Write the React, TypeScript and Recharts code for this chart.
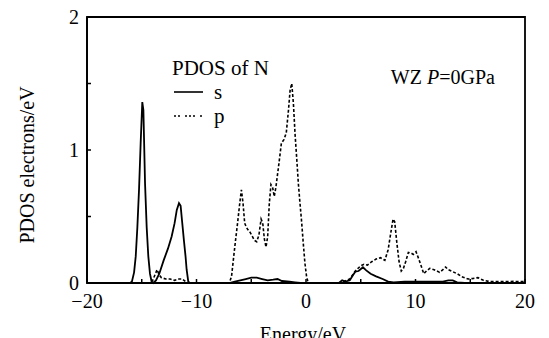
import React from "react";
import { LineChart, Line, XAxis, YAxis, Legend, ReferenceDot, ReferenceArea, Label } from "recharts";

// N partial DOS, wurtzite, P = 0 GPa
const sEnergy = [
  -20, -16.1, -15.9, -15.7, -15.55, -15.4, -15.25, -15.1, -14.95, -14.85, -14.7, -14.55, -14.4, -14.25,
  -14.1, -13.95, -13.7, -13.4, -13.0, -12.6, -12.27, -12.0, -11.8, -11.6, -11.45, -11.3, -11.15, -11.0,
  -10.9, -10.75, -10.6, -7.0, -6.5, -6.0, -5.5, -5.0, -4.5, -4.0, -3.5, -3.0, -2.6, -2.2, -1.5, -1.0,
  -0.5, 3.0, 3.3, 3.6, 4.0, 4.3, 4.5, 4.8, 5.2, 5.5, 5.9, 6.4, 7.0, 7.5, 8.0, 9.0, 10.0, 11.0, 12.5,
  13.0, 13.4, 13.8, 14.5, 20,
];
const sDos = [
  0, 0, 0.01, 0.08, 0.2, 0.42, 0.7, 1.05, 1.36, 1.3, 0.75, 0.42, 0.2, 0.07,
  0.01, 0, 0.02, 0.07, 0.17, 0.26, 0.35, 0.45, 0.55, 0.6, 0.58, 0.45, 0.32, 0.2,
  0.1, 0.01, 0, 0, 0.01, 0.02, 0.03, 0.04, 0.04, 0.03, 0.02, 0.025, 0.03, 0.015, 0.01, 0.005,
  0, 0, 0.02, 0.01, 0.02, 0.06, 0.085, 0.09, 0.118, 0.095, 0.07, 0.05, 0.03, 0.01, 0.005, 0.01, 0.01, 0.01, 0.01,
  0.02, 0.02, 0.005, 0, 0,
];

const pEnergy = [
  -20, -14.2, -14.0, -13.8, -13.6, -13.4, -13.2, -12.8, -12.4, -12.0, -11.6, -11.3, -11.0, -10.8,
  -7.0, -6.8, -6.6, -6.45, -6.25, -6.05, -5.9, -5.75, -5.6, -5.45, -5.3, -5.1, -4.9, -4.7, -4.5,
  -4.3, -4.1, -3.95, -3.8, -3.65, -3.5, -3.35, -3.2, -3.05, -2.9, -2.75, -2.5, -2.25, -2.0, -1.8,
  -1.6, -1.45, -1.3, -1.15, -1.0, -0.85, -0.7, -0.55, -0.4, -0.25, -0.1, 0.05, 0.2, 3.0, 3.4, 4.0,
  4.5, 5.0, 5.3, 5.6, 6.0, 6.4, 6.8, 7.2, 7.5, 7.75, 7.95, 8.1, 8.3, 8.5, 8.7, 8.9, 9.1, 9.35, 9.6,
  9.8, 10.05, 10.3, 10.55, 10.75, 11.0, 11.3, 11.7, 12.2, 12.5, 12.75, 13.0, 13.4, 13.8, 14.3, 14.8,
  15.3, 15.7, 16.2, 16.8, 18, 19, 20,
];
const pDos = [
  0, 0, 0.02, 0.06, 0.1, 0.06, 0.04, 0.03, 0.03, 0.02, 0.03, 0.03, 0.01, 0,
  0, 0.05, 0.2, 0.31, 0.45, 0.6, 0.7, 0.6, 0.45, 0.42, 0.4, 0.38, 0.35, 0.32, 0.31,
  0.36, 0.48, 0.45, 0.33, 0.27, 0.35, 0.6, 0.74, 0.72, 0.65, 0.72, 0.88, 1.05, 1.08, 1.13,
  1.3, 1.45, 1.5, 1.35, 1.12, 0.94, 0.75, 0.6, 0.46, 0.3, 0.15, 0.05, 0, 0, 0.01, 0.03,
  0.09, 0.13, 0.14, 0.135, 0.16, 0.18, 0.19, 0.17, 0.25, 0.38, 0.48, 0.46, 0.3, 0.16, 0.09, 0.11, 0.16, 0.23, 0.225,
  0.215, 0.235, 0.18, 0.12, 0.07, 0.09, 0.11, 0.1, 0.08, 0.1, 0.12, 0.1, 0.085, 0.07, 0.045, 0.03,
  0.035, 0.04, 0.02, 0.01, 0.01, 0.012, 0.01,
];

const xTicks = [-20, -15, -10, -5, 0, 5, 10, 15, 20];
const xTickLabels = ["−20", "", "−10", "", "0", "", "10", "", "20"];
const yTicks = [0, 0.5, 1, 1.5, 2];
const yTickLabels = ["0", "", "1", "", "2"];

const sData = sEnergy.map((e, i) => ({ e, v: sDos[i] }));
const pData = pEnergy.map((e, i) => ({ e, v: pDos[i] }));

const FONT = "Liberation Serif, DejaVu Serif, serif";
const txt = { fontFamily: FONT, fontSize: 20, fill: "#000" };

function XTick(props: any) {
  const { x, y, index } = props;
  const label = xTickLabels[index] ?? "";
  return (
    <g>
      <line x1={x} x2={x} y1={y} y2={y - 4} stroke="#000" strokeWidth={1.5} />
      {label && (
        <text x={x} y={y + 25} textAnchor="middle" style={txt}>
          {label}
        </text>
      )}
    </g>
  );
}

function YTick(props: any) {
  const { x, y, index } = props;
  const label = yTickLabels[index] ?? "";
  return (
    <g>
      <line x1={x} x2={x + 4} y1={y} y2={y} stroke="#000" strokeWidth={1.5} />
      {label && (
        <text x={x - 8} y={y} textAnchor="end" dominantBaseline="central" style={txt}>
          {label}
        </text>
      )}
    </g>
  );
}

function PdosLegend() {
  return (
    <div style={{ fontFamily: FONT, fontSize: 21, color: "#000", lineHeight: "24px", textAlign: "left" }}>
      <div>PDOS of N</div>
      <div style={{ display: "flex", alignItems: "center", height: 24 }}>
        <svg width={32} height={24}>
          <line x1={2} x2={31} y1={12} y2={12} stroke="#000" strokeWidth={1.6} />
        </svg>
        <span style={{ marginLeft: 10 }}>s</span>
      </div>
      <div style={{ display: "flex", alignItems: "center", height: 24 }}>
        <svg width={32} height={24}>
          <line x1={2} x2={31} y1={12} y2={12} stroke="#000" strokeWidth={1.4} strokeDasharray="2 2 2 5 2 2" />
        </svg>
        <span style={{ marginLeft: 10 }}>p</span>
      </div>
    </div>
  );
}

export default function App() {
  return (
    <div style={{ position: "absolute", left: 0, top: 0, background: "#fff", fontFamily: FONT }}>
      <LineChart width={549} height={338} margin={{ top: 17, right: 24, bottom: 25, left: 27 }}>
        <XAxis
          dataKey="e"
          type="number"
          domain={[-20, 20]}
          ticks={xTicks}
          allowDataOverflow
          height={30}
          tickSize={0}
          tickMargin={0}
          tickLine={false}
          tick={<XTick />}
          axisLine={{ stroke: "#000", strokeWidth: 1.8 }}
        >
          <Label
            content={(p: any) => {
              const vb = p.viewBox;
              return (
                <text x={vb.x + vb.width / 2 - 3} y={vb.y + 58} textAnchor="middle" style={txt}>
                  Energy/eV
                </text>
              );
            }}
          />
        </XAxis>
        <YAxis
          type="number"
          domain={[0, 2]}
          ticks={yTicks}
          width={60}
          tickSize={0}
          tickMargin={0}
          tickLine={false}
          tick={<YTick />}
          axisLine={{ stroke: "#000", strokeWidth: 1.8 }}
        >
          <Label
            content={(p: any) => {
              const vb = p.viewBox;
              const cx = vb.x + 7;
              const cy = vb.y + vb.height / 2 + 15;
              return (
                <text x={0} y={0} transform={`translate(${cx},${cy}) rotate(-90)`} textAnchor="middle" style={txt}>
                  PDOS electrons/eV
                </text>
              );
            }}
          />
        </YAxis>
        <ReferenceArea x1={-20} x2={20} y1={0} y2={2} fill="none" stroke="#000" strokeWidth={1.8} />
        <Line
          data={pData}
          dataKey="v"
          type="linear"
          stroke="#000"
          strokeWidth={1.6}
          strokeDasharray="3 2"
          dot={false}
          activeDot={false}
          isAnimationActive={false}
        />
        <Line
          data={sData}
          dataKey="v"
          type="linear"
          stroke="#000"
          strokeWidth={1.8}
          dot={false}
          activeDot={false}
          isAnimationActive={false}
        />
        <ReferenceDot
          x={12.5}
          y={1.55}
          r={0}
          fill="none"
          stroke="none"
          label={(p: any) => {
            const vb = p.viewBox;
            return (
              <text x={vb.x} y={vb.y} textAnchor="middle" dominantBaseline="central" style={txt}>
                WZ <tspan fontStyle="italic">P</tspan>=0GPa
              </text>
            );
          }}
        />
        <Legend
          layout="vertical"
          align="center"
          verticalAlign="middle"
          content={<PdosLegend />}
          wrapperStyle={{ left: 172, top: 56, width: 130 }}
        />
      </LineChart>
    </div>
  );
}
